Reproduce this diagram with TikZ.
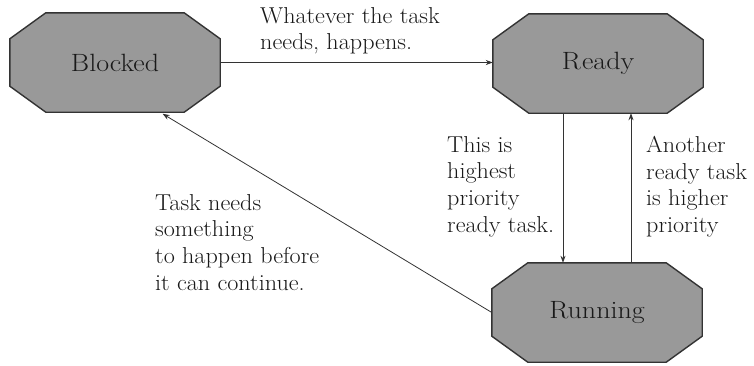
\documentclass[tikz,border=0pt]{standalone}
\usetikzlibrary{arrows.meta,backgrounds}
\newcommand\widetxt[1]{\scalebox{1.05}[1]{#1}}
\newcommand\widenode[1]{\scalebox{1.12}[1]{#1}}
\begin{document}
\begin{tikzpicture}[x=1pt,y=-1pt,
  state/.style={rectangle, minimum width=210pt, minimum height=99pt, inner sep=0pt, text=black!90, font=\fontsize{25}{30}\selectfont},
  lbl/.style={anchor=north west, inner sep=0pt, align=left, text=black!90, font=\fontsize{23}{26.7}\selectfont},
  arr/.style={-{Stealth[length=7pt,width=5pt]}, line width=0.8pt, draw=black!80},
  oct/.style={fill=black!40, draw=black!80, line width=1.4pt, line join=miter}]
\useasboundingbox (0,0) rectangle (754,365);
\node[state] (B) at (115,62.5) {\widenode{Blocked}};
\node[state] (R) at (598,63.5) {\widenode{R\kern1pt eady}};
\node[state] (U) at (597,312.5) {\widenode{Running}};
\begin{scope}[on background layer]
\foreach \n in {B,R,U} {
  \draw[oct] ([xshift=36pt]\n.north west) -- ([xshift=-36pt]\n.north east)
    -- ([yshift=-26pt]\n.north east) -- ([yshift=26pt]\n.south east)
    -- ([xshift=-36pt]\n.south east) -- ([xshift=36pt]\n.south west)
    -- ([yshift=26pt]\n.south west) -- ([yshift=-26pt]\n.north west) -- cycle;
}
\end{scope}
\node[lbl] (l1) at (260,7) {\widetxt{Whatever the task}\\\widetxt{needs, happens.}};
\node[lbl] (l2) at (447,136) {\widetxt{This is}\\\widetxt{highest}\\\widetxt{priority}\\\widetxt{ready task.}};
\node[lbl] (l3) at (646,136) {\widetxt{Another}\\\widetxt{ready task}\\\widetxt{is higher}\\\widetxt{priority}};
\node[lbl] (l4) at (155,194) {\widetxt{Task needs}\\\widetxt{something}\\\widetxt{to happen before}\\\widetxt{it can continue.}};
\coordinate (r1) at ([xshift=-35pt]R.south);
\coordinate (u1) at ([xshift=34pt]U.north);
\coordinate (b1) at ([xshift=45pt]B.south);
\draw[arr] (B.east) -- (B.east -| R.west);
\draw[arr] (r1) -- (r1 |- U.north);
\draw[arr] (u1) -- (u1 |- R.south);
\draw[arr, shorten >=3pt] (U.west) -- (b1);
\end{tikzpicture}
\end{document}
